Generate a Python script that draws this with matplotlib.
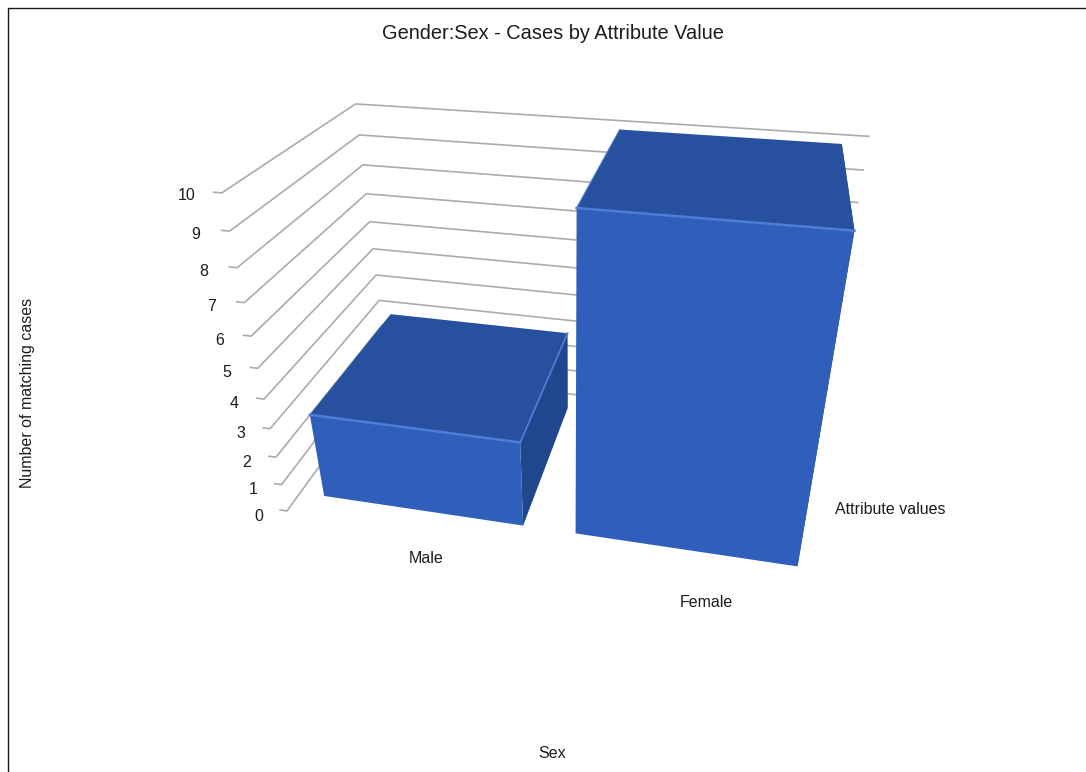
import matplotlib
matplotlib.use('Agg')
import matplotlib.pyplot as plt
from matplotlib.lines import Line2D
from mpl_toolkits.mplot3d import proj3d

plt.rcParams['font.family'] = ['Liberation Sans', 'DejaVu Sans']

categories = ['Male', 'Female']
cases = [3, 10]
z_ticks = [0, 1, 2, 3, 4, 5, 6, 7, 8, 9, 10]

front_col = '#2f5fbb'
top_col = '#27509f'
side_col = '#20468e'
edge_col = '#4f7cd6'
grid_col = '#ababab'
text_col = '#1c1c1c'
hidden = (0, 0, 0, 0)

W, H = 1086, 772
fig = plt.figure(figsize=(W / 100, H / 100), dpi=100)

# square axes, shifted so the camera axis lands at the middle of the plot
size = 772
left = 571.3 - 0.5135 * size
bottom = (H - 327.9) - 0.5135 * size
ax = fig.add_axes([left / W, bottom / H, size / W, size / H], projection='3d', computed_zorder=False)
# mplot3d moves the eye with the focal length, so zoom has to follow it
focal = 900 * 0.185 / size
ax.set_proj_type('persp', focal_length=focal)
ax.view_init(elev=29.8, azim=-77.9)
ax.set_xlim(0, 2)
ax.set_ylim(0, 1)
ax.set_zlim(0, 10)
ax.set_box_aspect((0.8634, 0.433, 0.555), zoom=4.04 * focal)
ax.set_axis_off()


def label3d(x, y, z, s):
    # flat text anchored at a projected scene position
    xp, yp, _ = proj3d.proj_transform(x, y, z, ax.get_proj())
    ax.text2D(xp, yp, s, ha='center', va='center', fontsize=11.5, color=text_col)


# wall gridlines with the little tick stub on the front
tick_len = 0.028
for z in z_ticks:
    ax.plot([-tick_len, 0, 0, 2], [0, 0, 1, 1], [z, z, z, z], color=grid_col, lw=1.2, zorder=1)
    label3d(-0.087, -0.051, z + 0.023, str(z))

bar_w = 0.8
bar_y = 0.11
bar_d = 0.78
for i, v in enumerate(cases):
    x0 = i + (1 - bar_w) / 2
    # bottom, top, front, back, left, right
    faces = [hidden, top_col, front_col, hidden, hidden, side_col]
    ax.bar3d(x0, bar_y, 0, bar_w, bar_d, v, color=faces, shade=False, zorder=2 + 2 * i)
    # lighter edges round the top of the bar
    ax.plot([x0, x0 + bar_w], [bar_y, bar_y], [v, v], color=edge_col, lw=1.8, zorder=3 + 2 * i)
    if i == 0:
        ax.plot([x0 + bar_w, x0 + bar_w], [bar_y, bar_y + bar_d], [v, v], color=edge_col, lw=1.3, zorder=3 + 2 * i)
    else:
        ax.plot([x0, x0], [bar_y, bar_y + bar_d], [v, v], color=edge_col, lw=0.8, zorder=3 + 2 * i)
    label3d(i + 0.6, -0.115, -0.08, categories[i])

label3d(2.25, 0.5, -0.08, 'Attribute values')

fig.text(553 / W, 1 - 33.5 / H, 'Gender:Sex - Cases by Attribute Value', ha='center', va='center', fontsize=14.4, color=text_col)
fig.text(552 / W, 1 - 754 / H, 'Sex', ha='center', va='center', fontsize=11.5, color=text_col)
fig.text(27.5 / W, 1 - 392.5 / H, 'Number of matching cases', ha='center', va='center', rotation=90, fontsize=11.5, color=text_col)

# frame on the top and left edges
fig.add_artist(Line2D([7.5 / W, 7.5 / W, 1], [0, 1 - 7.5 / H, 1 - 7.5 / H], color='#1a1a1a', lw=1.0))

fig.savefig('out.png', dpi=100)
